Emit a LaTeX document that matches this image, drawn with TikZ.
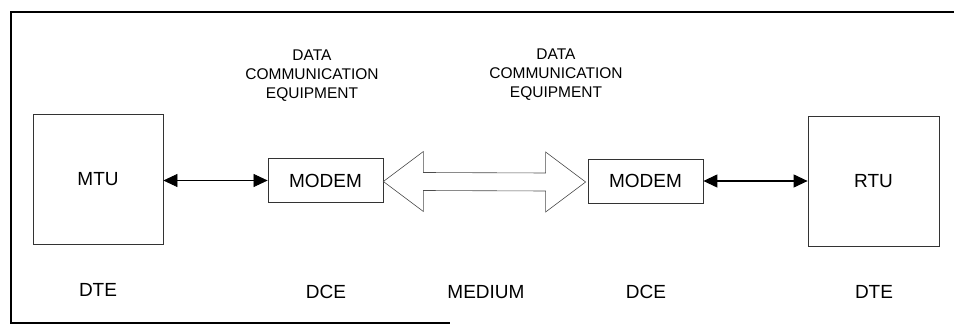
\documentclass[tikz,border=0pt]{standalone}
\usepackage{fontspec}
\setmainfont{Liberation Sans}
\usetikzlibrary{arrows.meta,calc}

\tikzset{
  x=1pt, y=1pt,
  unit/.style={draw=black!80, line width=0.8pt, minimum width=130pt, minimum height=130pt,
               inner sep=0pt, font=\fontsize{19}{20}\selectfont},
  modembox/.style={draw=black!80, line width=0.8pt, minimum width=115pt, minimum height=44pt,
               inner sep=0pt, font=\fontsize{19}{20}\selectfont},
  caption/.style={inner sep=0pt, font=\fontsize{19}{20}\selectfont},
  heading/.style={inner sep=0pt, align=center, font=\fontsize{15.5}{19}\selectfont},
  link/.style={line width=0.6pt, {Triangle[length=14pt,width=13pt]}-{Triangle[length=14pt,width=13pt]}},
  framing/.style={line width=2.4pt, black},
  medium/.style={draw=black!70, line width=0.6pt, line join=miter}
}

\begin{document}
\begin{tikzpicture}
  \useasboundingbox (0,0) rectangle (954,-326);

  % outer frame (open on the right)
  \draw[framing] (954,-12) -- (11,-12) -- (11,-323) -- (450,-323);

  % terminal units and modems
  \node[unit] (mtu) at (98,-179) {MTU};
  \node[unit, minimum width=131pt] (rtu) at (873.5,-181) {RTU};
  \node[modembox] (m1) at (325.5,-180.5) {MODEM};
  \node[modembox] (m2) at (645.5,-181) {MODEM};

  % DTE--DCE links
  \draw[link] (mtu.east |- m1.west) -- (m1.west);
  \draw[link, line width=1.2pt] (m2.east) -- (rtu.west |- m2.east);

  % transmission medium: hollow double-headed arrow
  \coordinate (tipL) at ($(m1.east)+(0,-1)$);
  \coordinate (tipR) at ($(m2.west)+(-2,-1)$);
  \draw[medium]
    (tipL) -- ++(40,30) -- ++(0,-21) -- ($(tipR)+(-40,9)$) -- ++(0,21)
    -- (tipR) -- ++(-40,-30) -- ++(0,21) -- ($(tipL)+(40,-9)$) -- ++(0,-21) -- cycle;

  % headings
  \node[heading] (h1) at (312,-76) {DATA\\COMMUNICATION\\EQUIPMENT};
  \node[heading] (h2) at (556,-75) {DATA\\COMMUNICATION\\EQUIPMENT};

  % bottom row of labels
  \node[caption] (l1) at (98,-290) {DTE};
  \node[caption] (l2) at (326,-292) {DCE};
  \node[caption] (l3) at (486,-292) {MEDIUM};
  \node[caption] (l4) at (646,-292) {DCE};
  \node[caption] (l5) at (874,-292) {DTE};
\end{tikzpicture}
\end{document}
